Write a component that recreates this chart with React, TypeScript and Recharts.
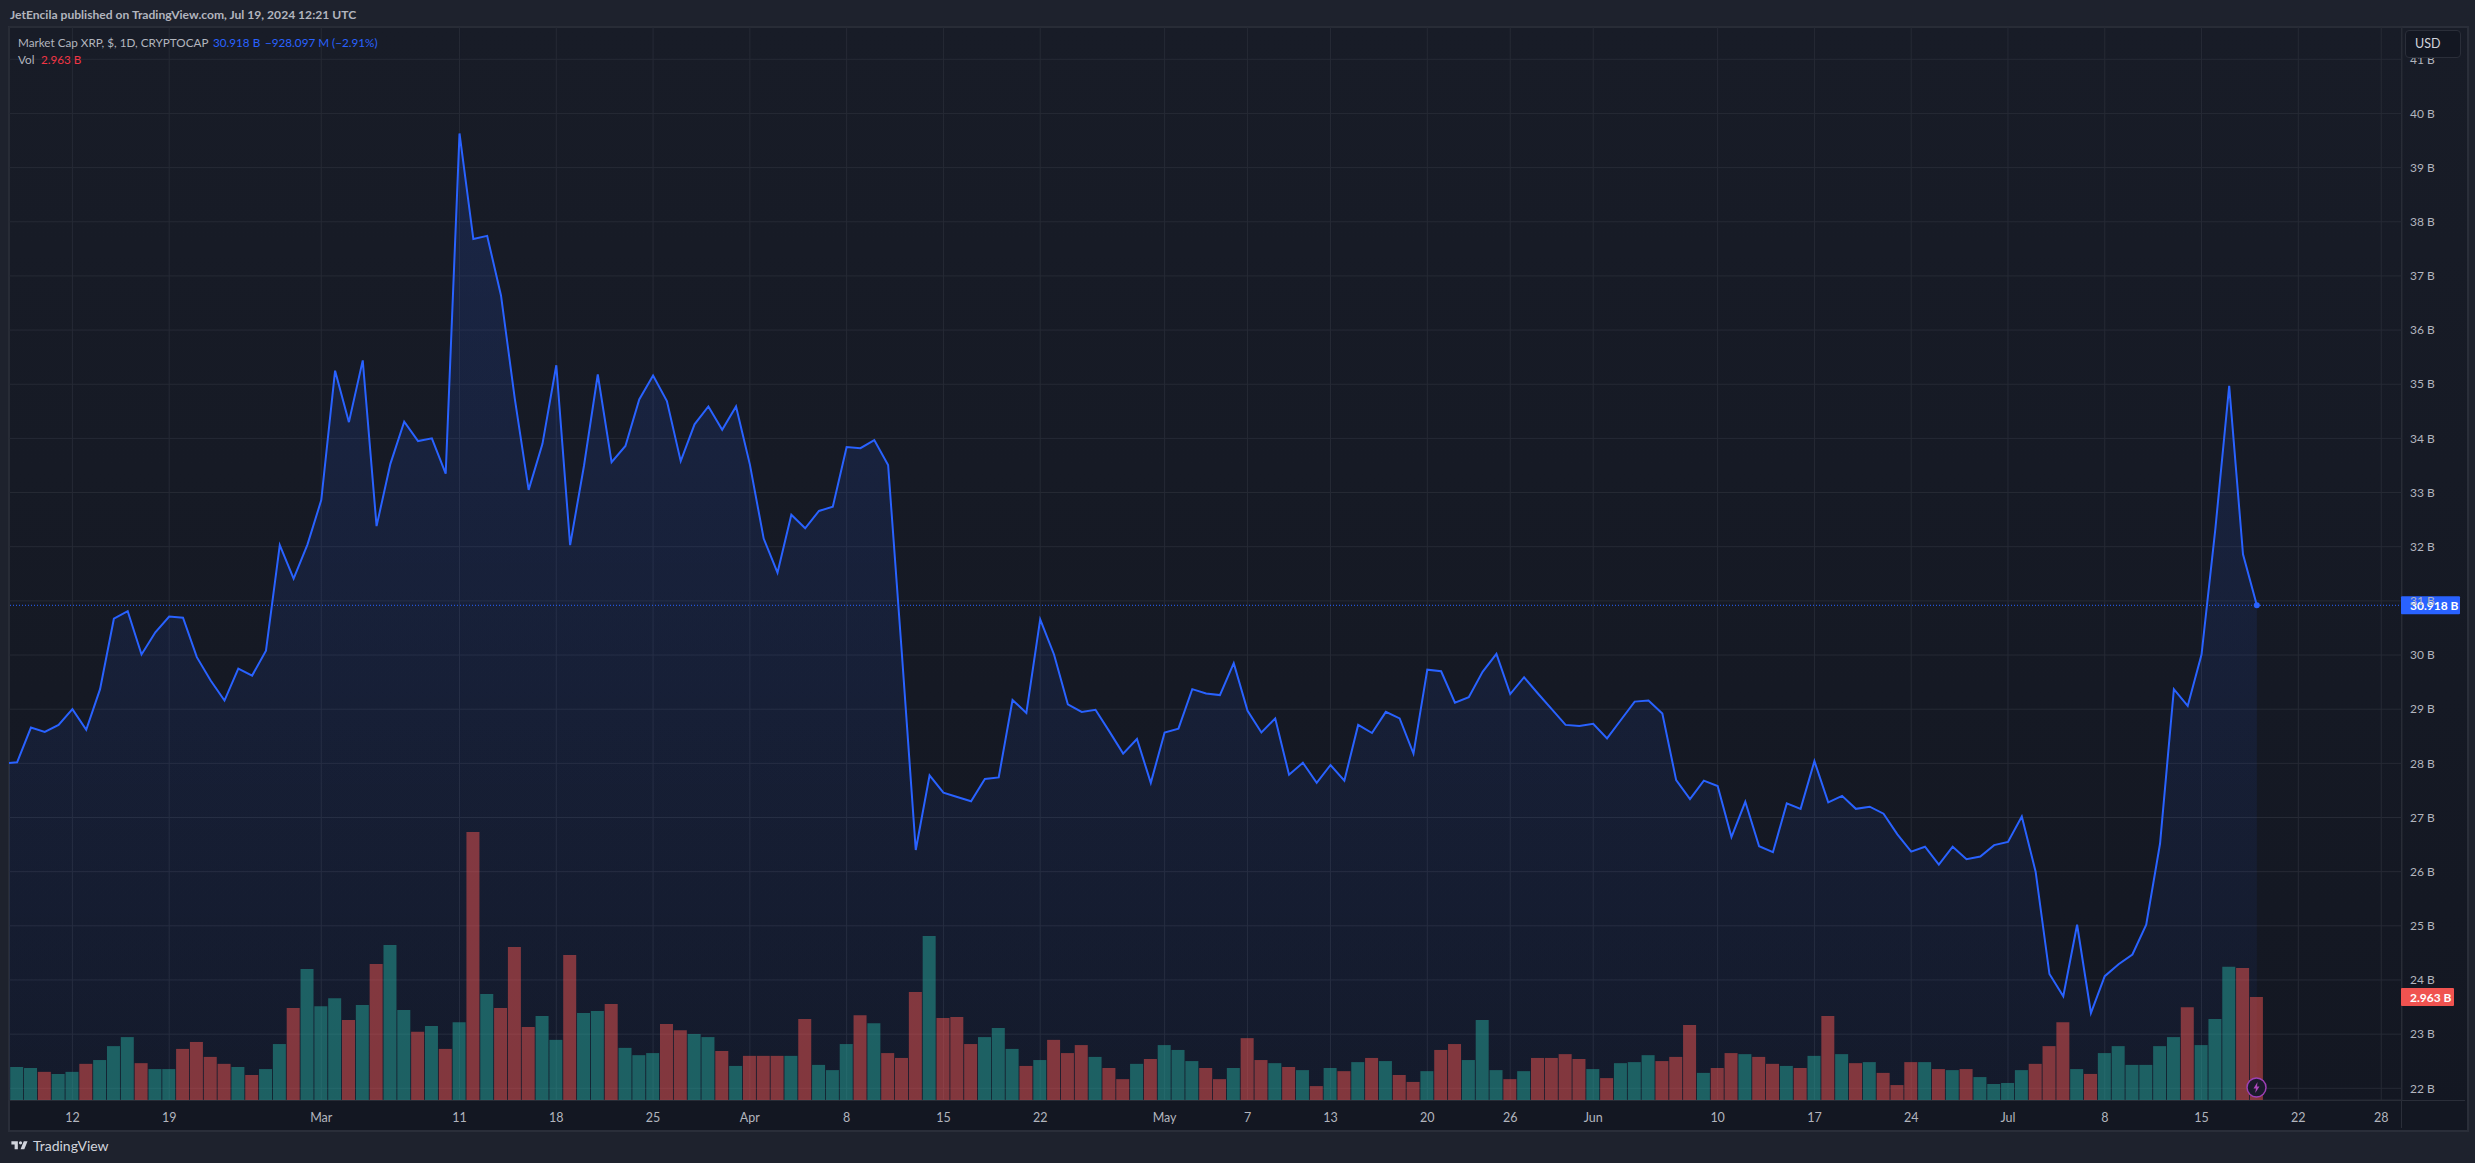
import React from 'react';
import { Area, Bar, CartesianGrid, Cell, ComposedChart, Line, ReferenceDot, ReferenceLine, XAxis, YAxis } from 'recharts';

// daily closes in billions, Feb 7 to Jul 19 2024
const priceValues = [
  28.0, 28.02, 28.66, 28.58, 28.71, 29.0, 28.62, 29.37, 30.67, 30.81,
  30.01, 30.42, 30.71, 30.69, 29.96, 29.53, 29.16, 29.75, 29.62, 30.08,
  32.03, 31.41, 32.04, 32.86, 35.25, 34.3, 35.44, 32.38, 33.53, 34.31,
  33.95, 34.0, 33.35, 39.63, 37.68, 37.74, 36.64, 34.73, 33.05, 33.9,
  35.35, 32.03, 33.49, 35.18, 33.56, 33.86, 34.72, 35.16, 34.69, 33.58,
  34.26, 34.59, 34.16, 34.59, 33.52, 32.15, 31.52, 32.59, 32.34, 32.66,
  32.74, 33.84, 33.82, 33.97, 33.51, 30.01, 26.4, 27.78, 27.46, 27.38,
  27.3, 27.71, 27.74, 29.17, 28.93, 30.66, 30.01, 29.09, 28.95, 28.99,
  28.59, 28.18, 28.45, 27.64, 28.57, 28.64, 29.37, 29.29, 29.26, 29.85,
  28.97, 28.57, 28.83, 27.79, 28.01, 27.64, 27.97, 27.68, 28.71, 28.56,
  28.95, 28.83, 28.18, 29.73, 29.7, 29.12, 29.22, 29.69, 30.02, 29.28,
  29.59, 29.29, 29.0, 28.71, 28.69, 28.73, 28.46, 28.8, 29.14, 29.16,
  28.92, 27.69, 27.34, 27.68, 27.58, 26.64, 27.29, 26.47, 26.36, 27.26,
  27.16, 28.04, 27.28, 27.4, 27.16, 27.2, 27.07, 26.69, 26.37, 26.46,
  26.13, 26.46, 26.23, 26.28, 26.49, 26.55, 27.02, 26.0, 24.11, 23.7,
  25.02, 23.39, 24.07, 24.29, 24.47, 25.02, 26.52, 29.37, 29.06, 30.01,
  32.33, 34.97, 31.86, 30.918,
];

// daily volume in billions, first entry is the off-screen day
const volumeValues = [
  null, 0.95, 0.92, 0.81, 0.75, 0.81, 1.04, 1.15, 1.55, 1.81,
  1.06, 0.89, 0.89, 1.47, 1.67, 1.24, 1.04, 0.95, 0.72, 0.89,
  1.61, 2.65, 3.77, 2.7, 2.93, 2.3, 2.73, 3.91, 4.46, 2.59,
  1.96, 2.13, 1.47, 2.24, 7.71, 3.05, 2.65, 4.4, 2.1, 2.42,
  1.73, 4.17, 2.5, 2.56, 2.76, 1.5, 1.29, 1.35, 2.19, 2.01,
  1.9, 1.81, 1.41, 0.98, 1.27, 1.27, 1.27, 1.27, 2.33, 1.01,
  0.86, 1.61, 2.44, 2.21, 1.35, 1.21, 3.11, 4.72, 2.36, 2.39,
  1.61, 1.81, 2.07, 1.47, 0.98, 1.15, 1.73, 1.35, 1.58, 1.24,
  0.92, 0.6, 1.04, 1.18, 1.58, 1.44, 1.12, 0.92, 0.6, 0.92,
  1.78, 1.15, 1.06, 0.95, 0.86, 0.4, 0.92, 0.83, 1.09, 1.21,
  1.12, 0.72, 0.52, 0.83, 1.44, 1.61, 1.15, 2.3, 0.86, 0.6,
  0.83, 1.21, 1.21, 1.32, 1.18, 0.89, 0.63, 1.06, 1.09, 1.29,
  1.12, 1.24, 2.16, 0.78, 0.92, 1.35, 1.32, 1.24, 1.04, 0.98,
  0.92, 1.27, 2.42, 1.32, 1.06, 1.09, 0.78, 0.43, 1.09, 1.09,
  0.89, 0.86, 0.89, 0.66, 0.46, 0.49, 0.86, 1.04, 1.55, 2.24,
  0.89, 0.75, 1.35, 1.55, 1.01, 1.01, 1.55, 1.81, 2.67, 1.58,
  2.33, 3.83, 3.8, 2.963,
];

// g = green volume bar, r = red volume bar, one per visible day from Feb 8
const volumeDirections = [
  'ggrggrgggr', 'ggrrrrgrgg', 'rgggrgrggr', 'grgrgrrrgg',
  'rggrgggrrg', 'grgrrrgrgg', 'grgrrrgrrr', 'gggrgrrrgr',
  'rgrgggrrgr', 'rgrgrgrgrg', 'rrgrrgggrg', 'rrrrgrgggr',
  'rrgrrgrrgr', 'grgrgrrrgr', 'grggggrrrg', 'rggggggrgg', 'grr',
].join('');

const tickDays = [5, 12, 23, 33, 40, 47, 54, 61, 68, 75, 84, 90, 96, 103, 109, 115, 124, 131, 138, 145, 152, 159, 166, 172];
const tickLabels = ['12', '19', 'Mar', '11', '18', '25', 'Apr', '8', '15', '22', 'May', '7', '13', '20', '26', 'Jun', '10', '17', '24', 'Jul', '8', '15', '22', '28'];
const priceTicks = [22, 23, 24, 25, 26, 27, 28, 29, 30, 31, 32, 33, 34, 35, 36, 37, 38, 39, 40, 41];

const LAST_PRICE = 30.918;
const LAST_VOLUME = 2.963;

const BLUE = '#2962ff';
const TEXT = '#b2b5be';
const BORDER = '#2a2e39';
const FONT = 'Lato, sans-serif';

const chartData = priceValues.map((price, i) => ({
  day: i,
  price,
  volume: volumeValues[i],
}));

function Tag({ viewBox, text, color, width }: any) {
  if (!viewBox) return null;
  const x = viewBox.x + viewBox.width;
  const y = viewBox.y;
  return (
    <g>
      <rect x={x - 1} y={y - 9} width={width} height={18} rx={1} fill={color} />
      <text x={x + 8} y={y + 4.5} fill="#fff" fontSize={12} fontWeight={700} fontFamily={FONT}>{text}</text>
    </g>
  );
}

function Caption({ x, y, color, weight, size, children }: any) {
  return (
    <div style={{ position: 'absolute', left: x, top: y, color, fontWeight: weight ?? 400, fontSize: size ?? 11.7, lineHeight: '16px', fontFamily: FONT, whiteSpace: 'nowrap' }}>
      {children}
    </div>
  );
}

export default function App() {
  return (
    <div style={{ position: 'fixed', left: 0, top: 0, width: 2475, height: 1163, background: '#1e222d', overflow: 'hidden' }}>
      {/* pane and scale backgrounds */}
      <div style={{ position: 'absolute', left: 8, top: 26, width: 2457, height: 1102, border: `2px solid ${BORDER}`, background: 'linear-gradient(#181c27, #131722)' }} />
      <div style={{ position: 'absolute', left: 10, top: 1100, width: 2455, height: 28, background: '#131722', borderTop: `1px solid ${BORDER}`, boxSizing: 'border-box' }} />
      <div style={{ position: 'absolute', left: 2401, top: 28, width: 1, height: 1100, background: BORDER }} />

      <div style={{ position: 'absolute', left: 0, top: 0 }}>
        <ComposedChart
          width={2475}
          height={1163}
          data={chartData}
          margin={{ top: 27, right: 10, bottom: 35, left: 9 }}
          barSize={13}
        >
          <defs>
            <linearGradient id="capFill" x1="0" y1="0" x2="0" y2="1">
              <stop offset="0%" stopColor={BLUE} stopOpacity={0.24} />
              <stop offset="100%" stopColor={BLUE} stopOpacity={0.07} />
            </linearGradient>
          </defs>
          <CartesianGrid yAxisId="price" stroke="#262a35" strokeWidth={1} />
          <XAxis
            dataKey="day"
            type="number"
            domain={[0.414, 173.5]}
            allowDataOverflow
            ticks={tickDays}
            interval={0}
            tickFormatter={(d) => tickLabels[tickDays.indexOf(d)]}
            axisLine={false}
            tickLine={false}
            height={28}
            tickMargin={7}
            tick={{ fill: TEXT, fontSize: 12.5, fontFamily: FONT }}
          />
          <YAxis
            yAxisId="price"
            orientation="right"
            domain={[21.784, 41.596]}
            allowDataOverflow
            ticks={priceTicks}
            interval={0}
            tickFormatter={(v) => `${v} B`}
            width={63}
            axisLine={false}
            tickLine={false}
            tickMargin={2}
            tick={{ fill: TEXT, fontSize: 12, fontFamily: FONT }}
          />
          <YAxis yAxisId="volume" orientation="right" domain={[0, 30.87]} allowDataOverflow hide />
          <Area
            yAxisId="price"
            dataKey="price"
            baseValue={21.784}
            stroke="none"
            fill="url(#capFill)"
            isAnimationActive={false}
          />
          <Bar yAxisId="volume" dataKey="volume" isAnimationActive={false}>
            {chartData.map((d, i) => (
              <Cell
                key={d.day}
                fill={volumeDirections[i - 1] === 'g' ? '#26a69a' : '#ef5350'}
                fillOpacity={0.5}
              />
            ))}
          </Bar>
          <ReferenceLine
            yAxisId="price"
            y={LAST_PRICE}
            stroke={BLUE}
            strokeDasharray="1 2"
            label={<Tag text="30.918 B" color={BLUE} width={59} />}
          />
          <ReferenceLine
            yAxisId="volume"
            y={LAST_VOLUME}
            strokeOpacity={0}
            label={<Tag text="2.963 B" color="#f05350" width={53} />}
          />
          <Line
            yAxisId="price"
            dataKey="price"
            stroke={BLUE}
            strokeWidth={2}
            dot={false}
            strokeLinejoin="miter"
            isAnimationActive={false}
          />
          <ReferenceDot yAxisId="price" x={163} y={LAST_PRICE} r={3} fill={BLUE} stroke="none" />
        </ComposedChart>
      </div>

      <Caption x={10} y={7} color={TEXT} weight={700} size={12.1}>JetEncila published on TradingView.com, Jul 19, 2024 12:21 UTC</Caption>
      <Caption x={18} y={34} color={TEXT}>Market Cap XRP, $, 1D, CRYPTOCAP</Caption>
      <Caption x={213} y={34} color={BLUE}>30.918 B</Caption>
      <Caption x={265} y={34} color={BLUE}>−928.097 M (−2.91%)</Caption>
      <Caption x={18} y={51} color={TEXT}>Vol</Caption>
      <Caption x={41} y={51} color="#f23645">2.963 B</Caption>

      {/* currency button */}
      <div style={{ position: 'absolute', left: 2405, top: 30, width: 56, height: 28, boxSizing: 'border-box', background: '#131722', border: `1px solid ${BORDER}`, borderRadius: 4, color: '#d1d4dc', fontFamily: FONT, fontSize: 12.5, lineHeight: '26px', paddingLeft: 9 }}>USD</div>

      {/* news marker on the last bar */}
      <svg style={{ position: 'absolute', left: 2246, top: 1077 }} width={21} height={21} viewBox="0 0 21 21">
        <circle cx={10.5} cy={10.5} r={9.5} fill="#1a1b2b" stroke="#9c3fb5" strokeWidth={1.5} />
        <path d="M11.5 5 L7.5 11.5 H10 L9.2 16 L13.5 9.5 H11 Z" fill="#ab47bc" />
      </svg>

      {/* footer brand */}
      <svg style={{ position: 'absolute', left: 10, top: 1139 }} width={20} height={14} viewBox="0 2 36 26">
        <path d="M14 6H2v6h6v9h6V6Zm12 15h-7l6-15h7l-6 15Zm-7-9a3 3 0 1 0 0-6 3 3 0 0 0 0 6Z" fill="#d1d4dc" />
      </svg>
      <div style={{ position: 'absolute', left: 33, top: 1137, color: '#d1d4dc', fontFamily: FONT, fontSize: 14, lineHeight: '18px' }}>TradingView</div>
    </div>
  );
}
